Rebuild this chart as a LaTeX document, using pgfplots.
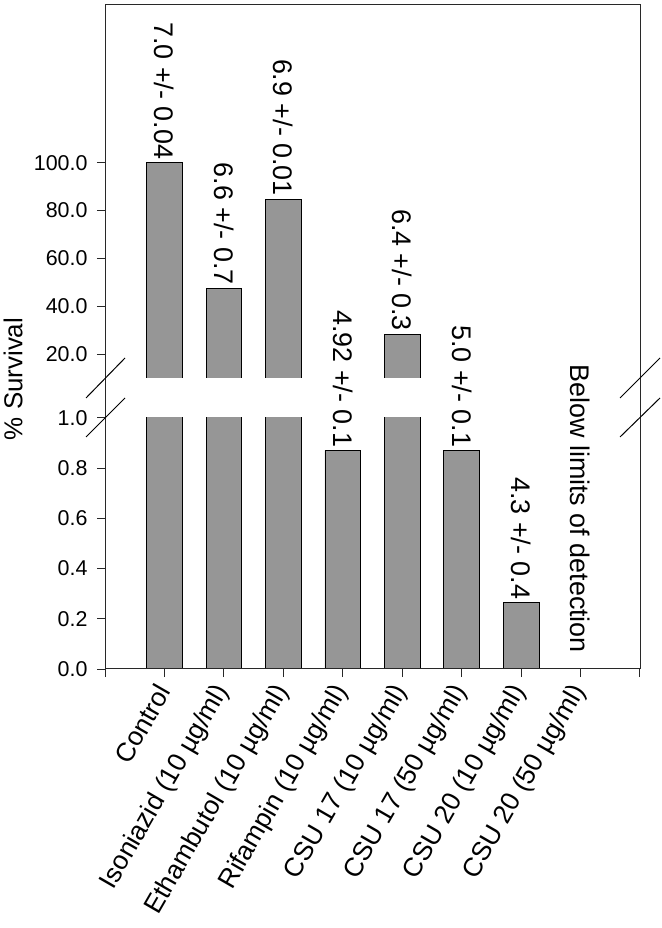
\documentclass[border=0pt]{standalone}
\usepackage{fontspec}
\setmainfont{Liberation Sans}
\usepackage{pgfplots}
\pgfplotsset{compat=1.18}
\usepackage{pgfplotstable}

\definecolor{barfill}{RGB}{150,150,150}
\definecolor{axcol}{RGB}{40,40,40}

\pgfplotstableread{
x y
1 100
2 47.5
3 84.7
4 0.87
5 28.2
6 0.87
7 0.264
}\survival

\newcommand{\lbl}{\fontsize{27}{32}\selectfont}
\tikzset{ann/.style={rotate=-90, anchor=east, font=\lbl}}

\begin{document}
\begin{tikzpicture}
\useasboundingbox (0,0) rectangle (662bp,928bp);
\pgfplotsset{
  common/.style={
    scale only axis, width=535bp, xmin=0, xmax=9,
    anchor=south west,
    axis line style={draw=none},
    tick align=outside, tick pos=left,
    major tick length=8bp,
    tick style={axcol, line width=1bp},
    ybar, bar width=0.6,
    clip mode=individual,
    /pgf/number format/assume math mode=true,
    /pgf/number format/fixed, /pgf/number format/precision=1,
    /pgf/number format/fixed zerofill,
    yticklabel style={xshift=-6bp, font=\fontsize{21.5}{25}\selectfont},
  },
  barstyle/.style={fill=barfill, draw=black, line width=0.8bp},
}
% upper part
\begin{axis}[common, at={(105bp,550bp)}, height=373bp,
  ymin=10, ymax=166, ytick={20,40,60,80,100}, xtick=\empty]
  \addplot[barstyle, restrict y to domain=10:1000] table[x=x,y=y] {\survival};
  \node[ann] at (axis cs:1,100) {7.0 +/- 0.04};
  \node[ann] at (axis cs:2,47.5) {6.6 +/- 0.7};
  \node[ann] at (axis cs:3,84.7) {6.9 +/- 0.01};
  \node[ann] at (axis cs:5,28.2) {6.4 +/- 0.3};
\end{axis}
% lower part (bars taller than the segment are cut at its top)
\begin{axis}[common, at={(105bp,259bp)}, height=251bp,
  ymin=0, ymax=1, ytick={0,0.2,0.4,0.6,0.8,1.0},
  xtick={0,1,2,3,4,5,6,7,8,9},
  xticklabels={{},Control,Isoniazid (10 µg/ml),Ethambutol (10 µg/ml),Rifampin (10 µg/ml),CSU 17 (10 µg/ml),CSU 17 (50 µg/ml),CSU 20 (10 µg/ml),CSU 20 (50 µg/ml),{}},
  xticklabel style={yshift=-7bp, xshift=1bp, rotate=60, anchor=east, font=\fontsize{26.5}{31}\selectfont}]
  \addplot[barstyle, y filter/.expression={y>1.5 ? 1.5 : y}] table[x=x,y=y] {\survival};
  \node[ann] at (axis cs:4,0.87) {4.92 +/- 0.1};
  \node[ann] at (axis cs:6,0.87) {5.0 +/- 0.1};
  \node[ann] at (axis cs:7,0.264) {4.3 +/- 0.4};
  \node[ann] at (axis cs:8,0.05) {Below limits of detection};
\end{axis}
% frame
\draw[axcol, line width=1bp] (105bp,259bp) -- (105bp,923bp) -- (640bp,923bp) -- (640bp,259bp) -- cycle;
% break marks
\draw[black, line width=1bp] (86bp,530bp) -- (125bp,570bp);
\draw[black, line width=1bp] (86bp,491bp) -- (125bp,530bp);
\draw[black, line width=1bp] (620bp,530bp) -- (660bp,570bp);
\draw[black, line width=1bp] (620bp,491bp) -- (660bp,530bp);
% y label
\node[rotate=90, font=\fontsize{26}{30}\selectfont] at (13bp,549bp) {\% Survival};
\end{tikzpicture}
\end{document}
